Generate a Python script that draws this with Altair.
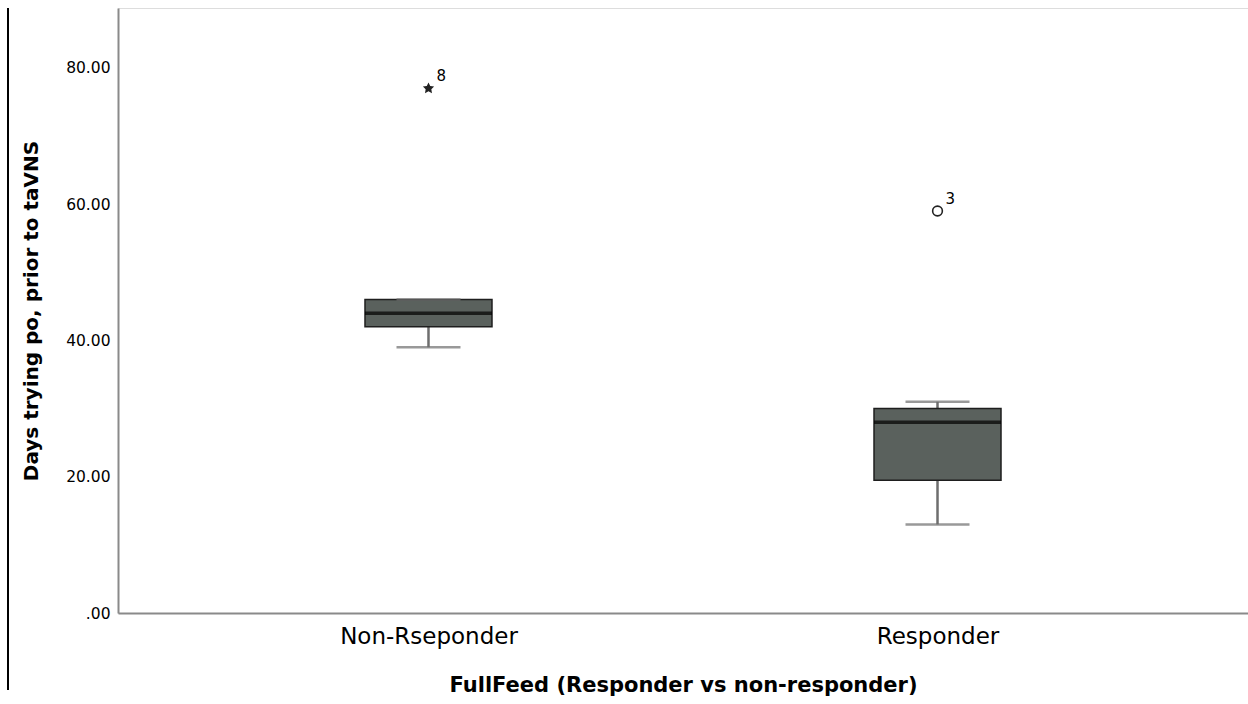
import altair as alt
import pandas as pd

# Box-plot summary per group
groups = ["Non-Rseponder", "Responder"]
whisker_low = [39.0, 13.0]
q1 = [42.0, 19.5]
median = [44.0, 28.0]
q3 = [46.0, 30.0]
whisker_high = [46.0, 31.0]

# Outlying cases (case number shown beside each point)
out_group = ["Non-Rseponder", "Responder"]
out_value = [77.0, 59.0]
out_case = ["8", "3"]
out_kind = ["extreme", "outlier"]

box_df = pd.DataFrame({
    "group": groups, "lo": whisker_low, "q1": q1,
    "med": median, "q3": q3, "hi": whisker_high,
})
out_df = pd.DataFrame({"group": out_group, "value": out_value,
                       "case": out_case, "kind": out_kind})

FONT = "DejaVu Sans"

x_enc = alt.X(
    "group:N", sort=groups,
    scale=alt.Scale(type="point", padding=0.61),
    axis=alt.Axis(
        title="FullFeed (Responder vs non-responder)",
        titleFont=FONT, titleFontSize=21, titleFontWeight="bold",
        titleColor="#000", titlePadding=26,
        labelFont=FONT, labelFontSize=23, labelColor="#000",
        labelPadding=12, labelAngle=0,
        ticks=False, domainColor="#8a8a8a", domainWidth=2, grid=False,
    ),
)
y_scale = alt.Scale(domain=[0, 88.8], nice=False, zero=True)
y_axis = alt.Axis(
    title="Days trying po, prior to taVNS",
    titleFont=FONT, titleFontSize=20, titleFontWeight="bold",
    titleColor="#000", titlePadding=24,
    labelFont=FONT, labelFontSize=15.5, labelColor="#000",
    labelPadding=8, values=[0, 20, 40, 60, 80],
    labelExpr="datum.value == 0 ? '.00' : format(datum.value, '.2f')",
    ticks=False, domainColor="#8a8a8a", domainWidth=2, grid=False,
)

base = alt.Chart(box_df)

whisker = base.mark_rule(color="#6e6e6e", strokeWidth=2.5).encode(
    x=x_enc,
    y=alt.Y("lo:Q", scale=y_scale, axis=y_axis),
    y2="hi:Q",
)
box = base.mark_bar(size=127, color="#5a615d", stroke="#1e1e1e",
                    strokeWidth=1.5).encode(
    x=alt.X("group:N", sort=groups),
    y="q1:Q", y2="q3:Q",
)
cap_lo = base.mark_tick(size=64, thickness=2.5, color="#6e6e6e",
                        orient="horizontal").encode(
    x=alt.X("group:N", sort=groups), y="lo:Q")
cap_hi = base.mark_tick(size=64, thickness=2.5, color="#6e6e6e",
                        orient="horizontal").encode(
    x=alt.X("group:N", sort=groups), y="hi:Q")
med = base.mark_tick(size=127, thickness=3.5, color="#000",
                     orient="horizontal").encode(
    x=alt.X("group:N", sort=groups), y="med:Q")

outs = alt.Chart(out_df)
star = outs.transform_filter("datum.kind == 'extreme'").mark_point(
    shape="M0,-1L0.29,-0.4L0.95,-0.31L0.48,0.15L0.59,0.81L0,0.5L-0.59,0.81L-0.48,0.15L-0.95,-0.31L-0.29,-0.4Z",
    filled=True, color="#222", size=140, opacity=1,
).encode(x=alt.X("group:N", sort=groups), y="value:Q")
circ = outs.transform_filter("datum.kind == 'outlier'").mark_point(
    shape="circle", filled=False, color="#222", size=95, strokeWidth=1.6,
    opacity=1,
).encode(x=alt.X("group:N", sort=groups), y="value:Q")
case_lbl = outs.mark_text(
    font=FONT, fontSize=15, color="#000", align="left", dx=8, dy=-12,
).encode(x=alt.X("group:N", sort=groups), y="value:Q", text="case:N")

# thin frame line at the far left of the figure
frame = alt.Chart(pd.DataFrame({"a": [0]})).mark_rule(
    color="#000", strokeWidth=2).encode(
    x=alt.value(-110), y=alt.value(0), y2=alt.value(682))

chart = alt.layer(
    whisker, box, cap_lo, cap_hi, med, star, circ, case_lbl, frame
).properties(
    width=1130, height=605,
    padding={"left": 118, "top": 8, "right": 0, "bottom": 91},
    autosize=alt.AutoSizeParams(type="none"),
).configure_view(stroke=None).configure(background="#ffffff")

chart.save("out.html", embed_options={"renderer": "svg", "actions": False})
